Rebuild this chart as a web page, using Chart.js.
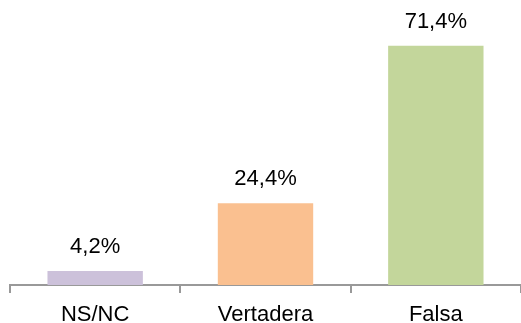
<!DOCTYPE html>
<html lang="en">
<head>
    <meta charset="UTF-8">
    <title>Respuestas</title>
    <script src="https://cdn.jsdelivr.net/npm/chart.js"></script>
    <style>
        body { margin: 0; background: #fff; }
    </style>
</head>
<body>
    <canvas id="chart" width="521" height="323"></canvas>

    <script>
        // Data
        const categories = ['NS/NC', 'Vertadera', 'Falsa'];
        const percentages = [4.2, 24.4, 71.4];
        const barColors = ['#CCC1DA', '#FAC090', '#C3D69B'];

        const fontFamily = '"Liberation Sans", Arial, sans-serif';

        // Simple plugin to write the value above each bar
        const valueLabels = {
            id: 'valueLabels',
            afterDatasetsDraw(chart) {
                const ctx = chart.ctx;
                const meta = chart.getDatasetMeta(0);
                ctx.save();
                ctx.font = '22px ' + fontFamily;
                ctx.fillStyle = '#000';
                ctx.textAlign = 'center';
                ctx.textBaseline = 'alphabetic';
                meta.data.forEach((bar, i) => {
                    const text = percentages[i].toFixed(1).replace('.', ',') + '%';
                    ctx.fillText(text, bar.x, bar.y - 18);
                });
                ctx.restore();
            }
        };

        const ctx = document.getElementById('chart').getContext('2d');
        new Chart(ctx, {
            type: 'bar',
            data: {
                labels: categories,
                datasets: [{
                    data: percentages,
                    backgroundColor: barColors,
                    categoryPercentage: 0.56,
                    barPercentage: 1
                }]
            },
            options: {
                responsive: false,
                animation: false,
                layout: { padding: { top: 17, left: 10, right: 0, bottom: -14 } },
                plugins: {
                    legend: { display: false },
                    tooltip: { enabled: false }
                },
                scales: {
                    x: {
                        grid: {
                            offset: true,
                            drawOnChartArea: false,
                            drawTicks: true,
                            tickLength: 8,
                            color: '#999999',
                            lineWidth: 2
                        },
                        border: { color: '#999999', width: 2 },
                        ticks: {
                            color: '#000',
                            padding: 11,
                            font: { family: fontFamily, size: 22, lineHeight: 1.0 }
                        }
                    },
                    y: {
                        display: false,
                        min: 0,
                        max: 80
                    }
                }
            },
            plugins: [valueLabels]
        });
    </script>
</body>
</html>
